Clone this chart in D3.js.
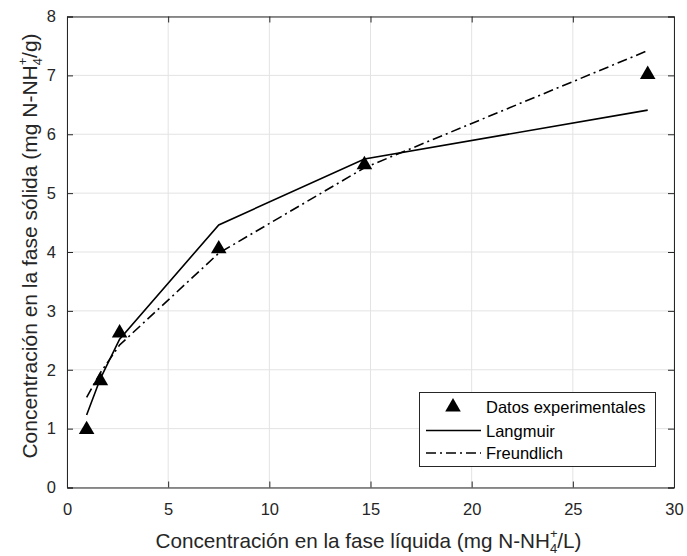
<!DOCTYPE html>
<html><head><meta charset="utf-8">
<script src="https://cdn.jsdelivr.net/npm/d3@7"></script>
<style>body{margin:0;background:#fff}svg{display:block}text{font-family:"Liberation Sans",Arial,sans-serif}</style>
</head><body>
<svg id="c" width="687" height="556"></svg>
<script>
const expX = [0.97, 1.65, 2.6, 7.5, 14.7, 28.7];
const expY = [1.0, 1.83, 2.64, 4.07, 5.5, 7.03];
const langX = [0.97, 1.65, 2.6, 7.5, 14.7, 28.7];
const langY = [1.23, 1.85, 2.52, 4.46, 5.58, 6.41];
const freuX = [0.97, 1.65, 2.6, 7.5, 14.7, 28.7];
const freuY = [1.53, 1.95, 2.42, 3.98, 5.43, 7.42];
const xTicks = [0, 5, 10, 15, 20, 25, 30];
const yTicks = [0, 1, 2, 3, 4, 5, 6, 7, 8];
const legendLabels = ["Datos experimentales", "Langmuir", "Freundlich"];

const svg = d3.select("#c");
const L = 67, R = 674, T = 16.5, B = 487.5;
const x = d3.scaleLinear().domain([0, 30]).range([L, R]);
const y = d3.scaleLinear().domain([0, 8]).range([B, T]);
const axisCol = "#262626";

// grid
const g = svg.append("g");
g.selectAll(".gx").data(xTicks).join("line")
  .attr("x1", d => x(d)).attr("x2", d => x(d)).attr("y1", T).attr("y2", B)
  .attr("stroke", "#e3e3e3").attr("stroke-width", 1);
g.selectAll(".gy").data(yTicks).join("line")
  .attr("y1", d => y(d)).attr("y2", d => y(d)).attr("x1", L).attr("x2", R)
  .attr("stroke", "#e3e3e3").attr("stroke-width", 1);

// axes
const ax = svg.append("g").attr("transform", `translate(0,${B})`)
  .call(d3.axisBottom(x).tickValues(xTicks).tickSize(-6).tickPadding(16).tickFormat(d3.format("d")));
const axT = svg.append("g").attr("transform", `translate(0,${T})`)
  .call(d3.axisTop(x).tickValues(xTicks).tickSize(-6).tickFormat(""));
const ay = svg.append("g").attr("transform", `translate(${L},0)`)
  .call(d3.axisLeft(y).tickValues(yTicks).tickSize(-6).tickPadding(11).tickFormat(d3.format("d")));
const ayR = svg.append("g").attr("transform", `translate(${R},0)`)
  .call(d3.axisRight(y).tickValues(yTicks).tickSize(-6).tickFormat(""));
[ax, axT, ay, ayR].forEach(a => {
  a.selectAll("path").attr("stroke", axisCol).attr("stroke-width", 1);
  a.selectAll("line").attr("stroke", axisCol);
  a.selectAll("text").attr("fill", axisCol).style("font-size", "16.5px");
});

// lines
const line = d3.line().x(d => x(d[0])).y(d => y(d[1]));
svg.append("path").datum(langX.map((v, i) => [v, langY[i]]))
  .attr("d", line).attr("fill", "none").attr("stroke", "#000").attr("stroke-width", 1.6);
svg.append("path").datum(freuX.map((v, i) => [v, freuY[i]]))
  .attr("d", line).attr("fill", "none").attr("stroke", "#000").attr("stroke-width", 1.6)
  .attr("stroke-dasharray", "10,4,2,4");

// markers
const tri = d3.symbol().type(d3.symbolTriangle).size(105);
svg.selectAll(".m").data(expX.map((v, i) => [v, expY[i]])).join("path")
  .attr("d", tri).attr("transform", d => `translate(${x(d[0])},${y(d[1])+1})`).attr("fill", "#000");

// legend
const lg = svg.append("g");
lg.append("rect").attr("x", 419.5).attr("y", 392.5).attr("width", 236).attr("height", 74)
  .attr("fill", "#fff").attr("stroke", axisCol).attr("stroke-width", 1);
const rows = [407, 430.5, 453];
lg.append("path").attr("d", tri).attr("transform", `translate(453,${rows[0]})`).attr("fill", "#000");
lg.append("line").attr("x1", 426).attr("x2", 481).attr("y1", rows[1]).attr("y2", rows[1])
  .attr("stroke", "#000").attr("stroke-width", 1.6);
lg.append("line").attr("x1", 426).attr("x2", 481).attr("y1", rows[2]).attr("y2", rows[2])
  .attr("stroke", "#000").attr("stroke-width", 1.6).attr("stroke-dasharray", "10,4,2,4");
lg.selectAll(".lt").data(legendLabels).join("text")
  .attr("x", 486).attr("y", (d, i) => rows[i] + 6)
  .style("font-size", "16.5px").attr("fill", "#000").text(d => d);

// axis titles
const xt = svg.append("text").attr("x", 368.5).attr("y", 548).attr("text-anchor", "middle")
  .style("font-size", "20.7px").attr("fill", axisCol);
xt.append("tspan").text("Concentración en la fase líquida (mg N-NH");
xt.append("tspan").attr("dy", -10).style("font-size", "13px").text("+");
xt.append("tspan").attr("dx", -7.5).attr("dy", 15).style("font-size", "13px").text("4");
xt.append("tspan").attr("dy", -5).text("/L)");

const yt = svg.append("text").attr("transform", `translate(37,246) rotate(-90)`)
  .attr("text-anchor", "middle").style("font-size", "21px").attr("fill", axisCol);
yt.append("tspan").text("Concentración en la fase sólida (mg N-NH");
yt.append("tspan").attr("dy", -10).style("font-size", "13px").text("+");
yt.append("tspan").attr("dx", -7.5).attr("dy", 15).style("font-size", "13px").text("4");
yt.append("tspan").attr("dy", -5).text("/g)");
</script>
</body></html>
